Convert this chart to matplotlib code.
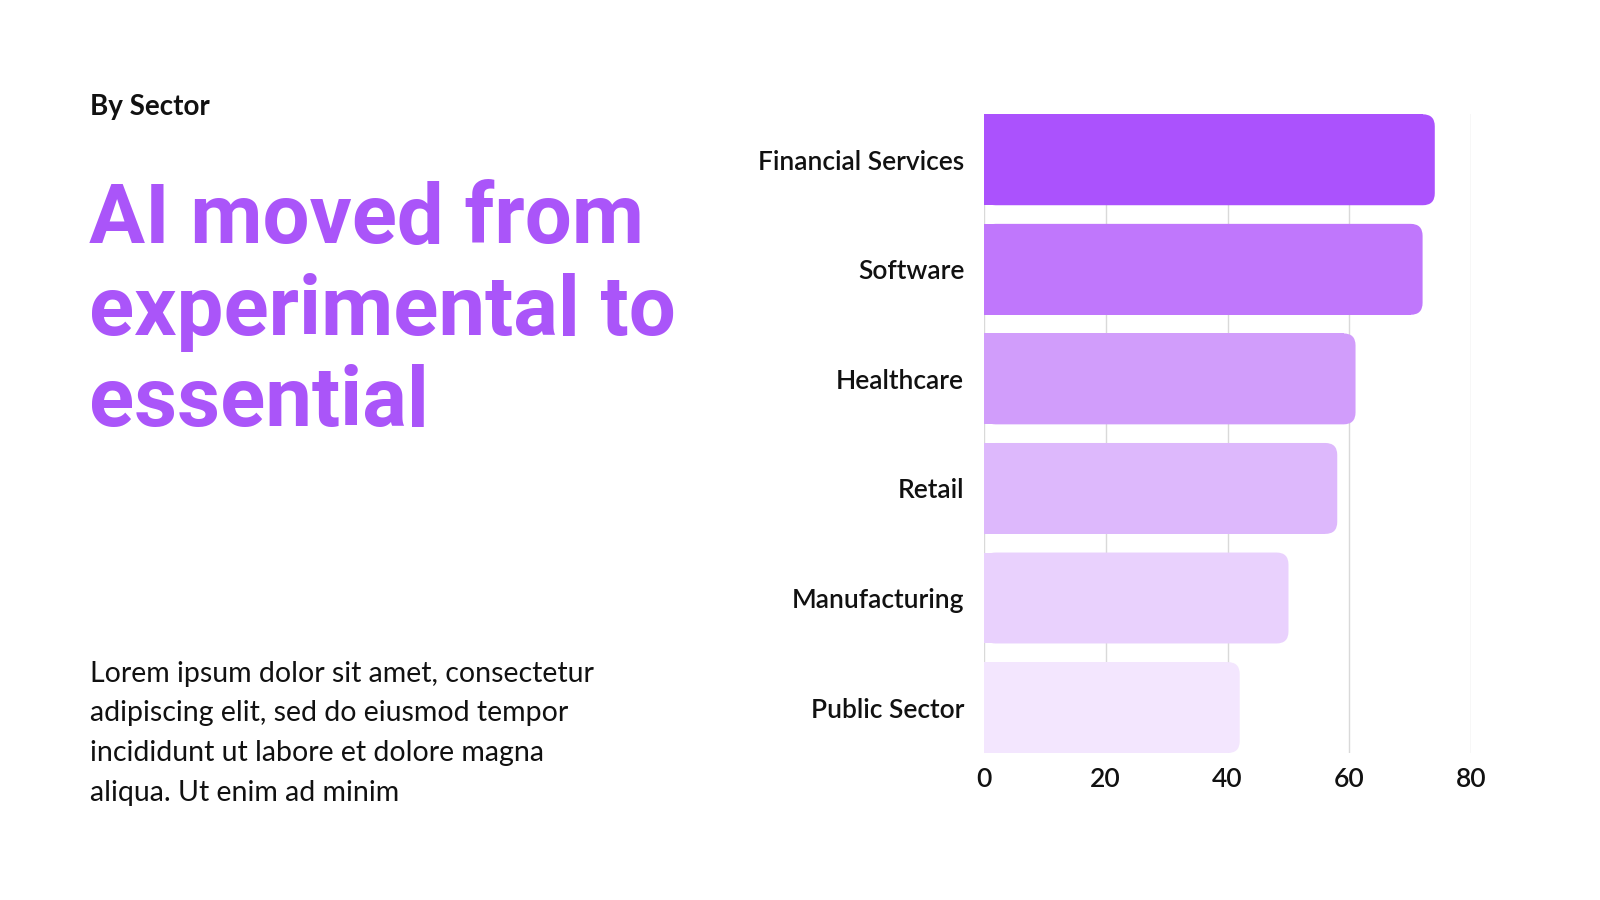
import matplotlib
matplotlib.use('Agg')
import matplotlib.pyplot as plt
from matplotlib.patches import FancyBboxPatch

plt.rcParams['font.family'] = ['Lato', 'DejaVu Sans']

# data
sectors = ['Financial Services', 'Software', 'Healthcare', 'Retail', 'Manufacturing', 'Public Sector']
values = [74, 72, 61, 58, 50, 42]
bar_colors = ['#AB52FD', '#C077FC', '#D19DFB', '#DDB8FC', '#E9D1FD', '#F3E6FE']
xticks = [0, 20, 40, 60, 80]

kicker = 'By Sector'
title_lines = ['AI moved from', 'experimental to', 'essential']
body_lines = ['Lorem ipsum dolor sit amet, consectetur',
              'adipiscing elit, sed do eiusmod tempor',
              'incididunt ut labore et dolore magna',
              'aliqua. Ut enim ad minim']

purple = '#AA55F9'
ink = '#111111'

fig = plt.figure(figsize=(16, 9), dpi=100)
fig.patch.set_facecolor('white')

# left text block
fig.text(0.0561, 0.872, kicker, fontsize=20, fontweight='bold', color=ink, va='baseline')
for i, line in enumerate(title_lines):
    fig.text(0.0555, 0.7302 - i * 0.102, line, fontsize=60, fontweight='bold', color=purple,
             va='baseline', family=['Roboto', 'DejaVu Sans'])
for i, line in enumerate(body_lines):
    fig.text(0.0561, 0.2426 - i * 0.0442, line, fontsize=20.5, color=ink, va='baseline')

# chart
ax = fig.add_axes([0.6148, 0.1633, 0.3048, 0.7097])
h = 0.83
ax.set_xlim(0, 80)
ax.set_ylim(len(sectors) - 1 + h / 2, -h / 2)

px_x = ax.transData.transform((1, 0))[0] - ax.transData.transform((0, 0))[0]
px_y = abs(ax.transData.transform((0, 1))[1] - ax.transData.transform((0, 0))[1])
aspect = px_x / px_y
r = 12 / px_x  # corner radius in x units

for i, (v, c) in enumerate(zip(values, bar_colors)):
    ax.barh(i, v - r, height=h, color=c, linewidth=0, zorder=2, align='center')
    ax.add_patch(FancyBboxPatch((0, i - h / 2), v, h,
                                boxstyle='round,pad=0,rounding_size=%f' % r,
                                mutation_aspect=aspect, facecolor=c, edgecolor='none', zorder=2))

ax.set_yticks(range(len(sectors)))
ax.set_yticklabels(sectors, fontsize=19, fontweight='semibold', color=ink)
ax.set_xticks(xticks)
ax.set_xticklabels([str(t) for t in xticks], fontsize=19, fontweight='semibold', color=ink)
ax.tick_params(axis='y', length=0, pad=14)
ax.tick_params(axis='x', length=0, pad=10)
ax.grid(axis='x', color='#D9D9D9', linewidth=1, zorder=0)
ax.set_axisbelow(True)
for s in ax.spines.values():
    s.set_visible(False)

fig.savefig('out.png', dpi=100, facecolor='white')
